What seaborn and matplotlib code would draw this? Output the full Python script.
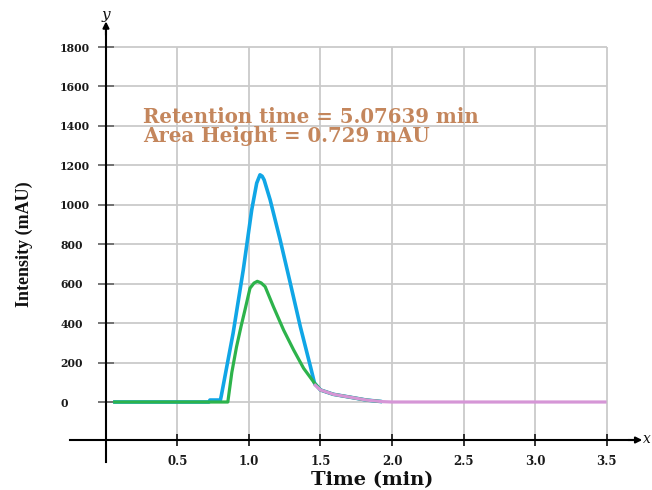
import numpy as np
import pandas as pd
import matplotlib
matplotlib.use("Agg")
import matplotlib.pyplot as plt
import seaborn as sns

# ---- data ----
blue_time = [0.05, 0.72, 0.727, 0.800, 0.806, 0.889, 0.960, 1.019, 1.054, 1.077, 1.092,
             1.106, 1.148, 1.218, 1.289, 1.359, 1.430, 1.458, 1.50, 1.59, 1.71, 1.82, 1.93]
blue_int = [0, 0, 10, 10, 30, 349, 670, 974, 1110, 1152, 1145,
            1126, 1025, 822, 602, 382, 179, 96, 61, 39, 24, 10, 2]

green_time = [0.05, 0.852, 0.880, 0.913, 0.945, 0.972, 1.007, 1.035, 1.058, 1.085, 1.113,
              1.171, 1.242, 1.312, 1.382, 1.458, 1.50, 1.59, 1.71, 1.82, 1.93]
green_int = [0, 0, 150, 280, 385, 467, 577, 603, 612, 604, 585,
             483, 365, 264, 171, 96, 61, 39, 24, 10, 2]

pink_time = [1.455, 1.50, 1.59, 1.71, 1.82, 1.93, 2.0, 3.5]
pink_int = [90, 61, 39, 24, 10, 2, 0, 0]

x_ticks = [0.5, 1.0, 1.5, 2.0, 2.5, 3.0, 3.5]
x_tick_labels = ["0.5", "1.0", "1.5", "2.0", "2.5", "3.0", "3.5"]
y_ticks = [0, 200, 400, 600, 800, 1000, 1200, 1400, 1600, 1800]
y_tick_labels = [str(v) for v in y_ticks]

annot_lines = ["Retention time = 5.07639 min", "Area Height = 0.729 mAU"]

# ---- styling ----
sns.set_style("white")
plt.rcParams["font.family"] = ["DejaVu Serif"]

W, H = 652, 490
fig = plt.figure(figsize=(W / 100, H / 100), dpi=100)
ax = fig.add_axes([0, 0, 1, 1])
ax.set_facecolor("white")

XAXIS_Y = -192.7
ax.set_xlim(-0.741, 3.818)
ax.set_ylim(-446.2, 2038.5)

# grid
ax.vlines(x_ticks, XAXIS_Y, 1800, color="#CACACA", lw=1.3, zorder=0)
ax.hlines(y_ticks, 0, 3.5, color="#CACACA", lw=1.3, zorder=0)

# curves
blue_df = pd.DataFrame({"time": blue_time, "intensity": blue_int})
green_df = pd.DataFrame({"time": green_time, "intensity": green_int})
pink_df = pd.DataFrame({"time": pink_time, "intensity": pink_int})
common = dict(estimator=None, sort=False, solid_joinstyle="round", solid_capstyle="butt")
sns.lineplot(data=blue_df, x="time", y="intensity", ax=ax, color="#10A6E6",
             lw=2.6, zorder=3, **common)
sns.lineplot(data=green_df, x="time", y="intensity", ax=ax, color="#2DB34B",
             lw=2.3, zorder=4, **common)
sns.lineplot(data=pink_df, x="time", y="intensity", ax=ax, color="#D596D6",
             lw=2.3, zorder=5, **common)

# axes lines
for s in ["top", "right"]:
    ax.spines[s].set_visible(False)
ax.spines["left"].set_position(("data", 0))
ax.spines["bottom"].set_position(("data", XAXIS_Y))
ax.spines["left"].set_bounds(-305, 1880)
ax.spines["bottom"].set_bounds(-0.25, 3.68)
for s in ["left", "bottom"]:
    ax.spines[s].set_color("black")
    ax.spines[s].set_linewidth(1.5)
    ax.spines[s].set_zorder(6)
ax.annotate("", xy=(0, 1930), xytext=(0, 1860),
            arrowprops=dict(arrowstyle="-|>", color="black", lw=1.5, mutation_scale=9,
                            shrinkA=0, shrinkB=0))
ax.annotate("", xy=(3.75, XAXIS_Y), xytext=(3.65, XAXIS_Y),
            arrowprops=dict(arrowstyle="-|>", color="black", lw=1.5, mutation_scale=9,
                            shrinkA=0, shrinkB=0))

ax.set_xticks(x_ticks)
ax.set_xticklabels(x_tick_labels)
ax.set_yticks(y_ticks)
ax.set_yticklabels(y_tick_labels)
ax.tick_params(axis="x", direction="inout", length=9, width=1.3, color="#222222",
               pad=6, labelsize=8.5, labelcolor="#1a1a1a", bottom=True)
ax.tick_params(axis="y", direction="inout", length=12, width=1.3, color="#6a6a6a",
               pad=27, labelsize=7.8, labelcolor="#1a1a1a", left=True)
for lab in ax.get_yticklabels():
    lab.set_horizontalalignment("left")
    lab.set_fontweight("bold")
for lab in ax.get_xticklabels():
    lab.set_fontweight("bold")

ax.set_xlabel("")
ax.set_ylabel("")

# axis titles
fig.text(372 / W, 1 - 480 / H, "Time (min)", ha="center", va="center",
         fontsize=14, fontweight="bold", color="#111111")
fig.text(24 / W, 1 - 244 / H, "Intensity (mAU)", ha="center", va="center",
         rotation=90, fontsize=13, fontweight="bold", color="#111111",
         family=["Liberation Serif", "DejaVu Serif"])
fig.text(106 / W, 1 - 15 / H, "y", ha="center", va="center", fontsize=11,
         style="italic", color="#111111")
fig.text(651 / W, 1 - 439 / H, "x", ha="right", va="center", fontsize=10,
         style="italic", color="#111111")

# annotation
fig.text(143 / W, 1 - 117 / H, annot_lines[0], ha="left", va="center",
         fontsize=14.2, fontweight="bold", color="#C4865C")
fig.text(143 / W, 1 - 136 / H, annot_lines[1], ha="left", va="center",
         fontsize=14.2, fontweight="bold", color="#C4865C")

fig.savefig("out.png", dpi=100)
